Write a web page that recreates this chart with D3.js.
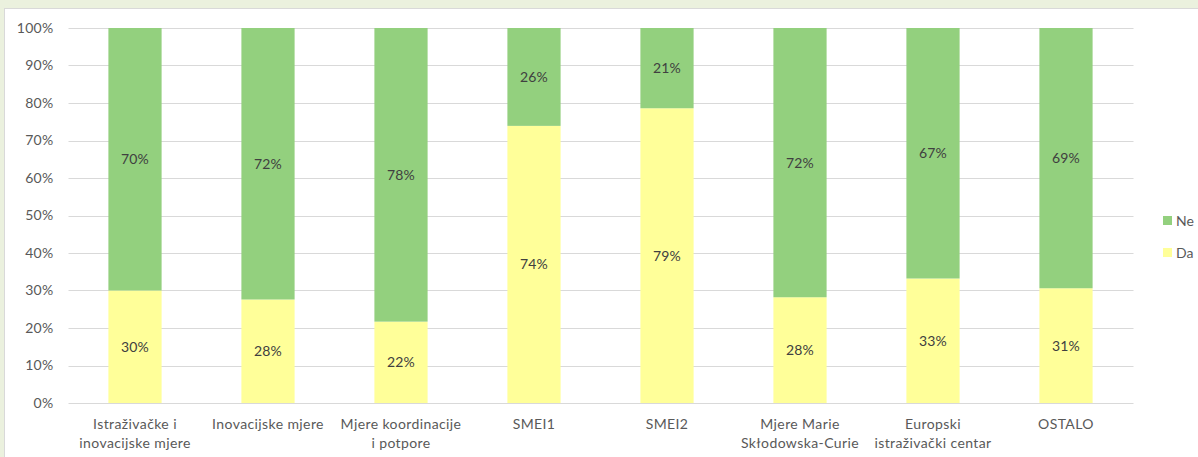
<!DOCTYPE html>
<html><head><meta charset="utf-8">
<script src="https://cdn.jsdelivr.net/npm/d3@7"></script>
<style>
html,body{margin:0;padding:0;background:#ebf1de;}
svg{display:block;}
</style></head>
<body>
<svg id="chart" width="1198" height="457"></svg>
<script>
const categories = [
  ["Istraživačke i","inovacijske mjere"],
  ["Inovacijske mjere"],
  ["Mjere koordinacije","i potpore"],
  ["SMEI1"],
  ["SMEI2"],
  ["Mjere Marie","Skłodowska-Curie"],
  ["Europski","istraživački centar"],
  ["OSTALO"]
];
const da = [30.0, 27.6, 21.7, 73.9, 78.6, 28.2, 33.2, 30.6];
const ne = [70.0, 72.4, 78.3, 26.1, 21.4, 71.8, 66.8, 69.4];
const seriesNames = ["Da","Ne"];
const colors = {Da:"#ffff99", Ne:"#93d07e"};
const yTicks = [0,10,20,30,40,50,60,70,80,90,100];

const svg = d3.select("#chart");
const font = "Lato, 'Liberation Sans', sans-serif";

// panel
svg.append("rect").attr("x",4.5).attr("y",8.5).attr("width",1200).attr("height",460)
  .attr("fill","#ffffff").attr("stroke","#d9d9d9").attr("stroke-width",1);

const pLeft = 68.5, pRight = 1132.5, pTop = 28, pBottom = 403;
const keys = categories.map((c,i)=>i);
const x = d3.scaleBand().domain(keys).range([pLeft,pRight]).paddingInner(0.6).paddingOuter(0.3);
const y = d3.scaleLinear().domain([0,100]).range([pBottom,pTop]);

// gridlines
svg.append("g").selectAll("line").data(yTicks.filter(d=>d>0)).join("line")
  .attr("x1",pLeft).attr("x2",pRight+1).attr("y1",d=>Math.round(y(d))+0.5).attr("y2",d=>Math.round(y(d))+0.5)
  .attr("stroke","#d9d9d9").attr("stroke-width",1);

// y axis labels
const yAxis = d3.axisLeft(y).tickValues(yTicks).tickFormat(d=>d+"%").tickSize(0).tickPadding(0);
const gy = svg.append("g").attr("transform",`translate(${pLeft-15},0)`).call(yAxis);
gy.select(".domain").remove();
gy.selectAll("text").attr("font-family",font).attr("font-size",14).attr("letter-spacing","0.3px").attr("fill","#595959");

// stacked bars
const rows = keys.map(i=>({i, Da:da[i], Ne:ne[i]}));
const stack = d3.stack().keys(seriesNames)(rows);
const gBars = svg.append("g");
stack.forEach(layer=>{
  const name = layer.key;
  gBars.selectAll("rect."+name).data(layer).join("rect").attr("class",name)
    .attr("x",d=>x(d.data.i)).attr("width",x.bandwidth())
    .attr("y",d=>y(d[1])).attr("height",d=>y(d[0])-y(d[1]))
    .attr("fill",colors[name]);
});
stack.forEach(layer=>{
  const name = layer.key;
  gBars.selectAll("text."+name).data(layer).join("text").attr("class",name)
    .attr("x",d=>x(d.data.i)+x.bandwidth()/2)
    .attr("y",d=>(y(d[0])+y(d[1]))/2)
    .attr("dy","0.35em").attr("text-anchor","middle")
    .attr("font-family",font).attr("font-size",14).attr("letter-spacing","0.2px").attr("fill","#404040")
    .text(d=>Math.round(d[1]-d[0])+"%");
});

// x axis line
svg.append("line").attr("x1",pLeft).attr("x2",pRight+1).attr("y1",pBottom+0.5).attr("y2",pBottom+0.5)
  .attr("stroke","#d9d9d9");

// x axis labels
const xAxis = d3.axisBottom(x).tickSize(0).tickFormat(()=>"");
const gx = svg.append("g").attr("transform",`translate(0,${pBottom})`).call(xAxis);
gx.select(".domain").remove();
gx.selectAll(".tick").each(function(i){
  const t = d3.select(this).append("text").attr("text-anchor","middle")
    .attr("font-family",font).attr("font-size",14).attr("letter-spacing","0.4px").attr("fill","#595959");
  categories[i].forEach((line,k)=>{
    t.append("tspan").attr("x",0).attr("y",26+k*19).text(line);
  });
});

// legend
const legend = svg.append("g");
["Ne","Da"].forEach((name,k)=>{
  const ly = 221 + k*32;
  legend.append("rect").attr("x",1163).attr("y",ly-5).attr("width",9).attr("height",9).attr("fill",colors[name]);
  legend.append("text").attr("x",1176).attr("y",ly).attr("dy","0.35em")
    .attr("font-family",font).attr("font-size",14).attr("fill","#595959").text(name);
});
</script>
</body></html>
